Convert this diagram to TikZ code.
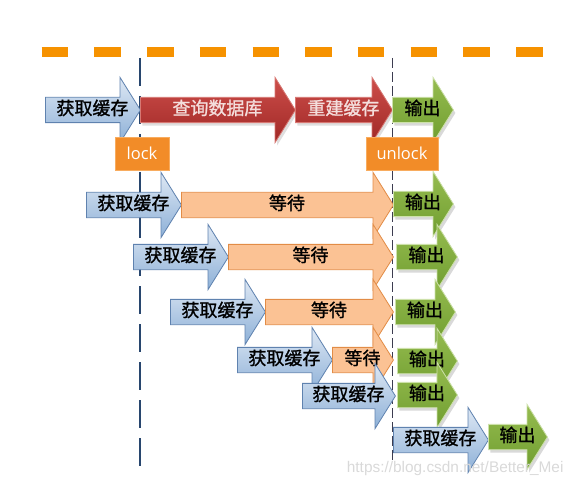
\documentclass[tikz,border=0pt]{standalone}
\usepackage{fontspec}
\setmainfont{Open Sans}
\newfontfamily\cjk[FakeBold=1.2]{Noto Sans CJK SC}
\newfontfamily\wmfont{Liberation Sans}
\usetikzlibrary{shapes.arrows,shadows}
\definecolor{dashorange}{RGB}{246,146,0}
\definecolor{timeline}{RGB}{40,70,110}
\definecolor{unlockline}{RGB}{60,60,80}
\definecolor{gettop}{RGB}{222,232,244}
\definecolor{getbottom}{RGB}{141,176,215}
\definecolor{getedge}{RGB}{95,130,175}
\definecolor{dbtop}{RGB}{205,78,74}
\definecolor{dbbottom}{RGB}{160,40,38}
\definecolor{dbedge}{RGB}{215,120,115}
\definecolor{dbtext}{RGB}{244,222,220}
\definecolor{waitfill}{RGB}{251,194,148}
\definecolor{waitedge}{RGB}{226,140,70}
\definecolor{outtop}{RGB}{150,188,80}
\definecolor{outbottom}{RGB}{112,158,48}
\definecolor{outedge}{RGB}{205,225,170}
\definecolor{lockfill}{RGB}{242,140,40}
\definecolor{lockedge}{RGB}{248,172,95}
\tikzset{
  textshift/.style={execute at begin node={\hspace*{#1}}, execute at end node={\hspace*{-#1}}},
  blockarrow/.style={single arrow, anchor=tail, single arrow head extend=20pt,
    single arrow tip angle=116, inner xsep=1pt, inner ysep=4.5pt,
    text height=12.5pt, text depth=3pt, line width=0.8pt, textshift=3.5pt,
    font=\cjk\fontsize{18}{18}\selectfont},
  getbox/.style={blockarrow, draw=getedge, top color=gettop, bottom color=getbottom, text=black},
  dbbox/.style={blockarrow, draw=dbedge, top color=dbtop, bottom color=dbbottom, text=dbtext,
    drop shadow={opacity=0.25, shadow xshift=2pt, shadow yshift=-3pt}},
  waitbox/.style={blockarrow, draw=waitedge, fill=waitfill, text=black},
  outbox/.style={blockarrow, draw=outedge, top color=outtop, bottom color=outbottom, text=black,
    drop shadow={opacity=0.3, shadow xshift=2pt, shadow yshift=-3pt}},
  lockbox/.style={rectangle, draw=lockedge, fill=lockfill, text=white, minimum height=33pt,
    font=\fontsize{16.5}{16.5}\selectfont},
}
\begin{document}
\begin{tikzpicture}[x=1pt,y=-1pt]
\useasboundingbox (0,0) rectangle (578,489);
\draw [dashorange, line width=10pt, dash pattern=on 26.5pt off 26.2pt] (41.7,52) -- (543,52);
\draw [timeline, line width=2pt, dash pattern=on 28pt off 10pt] (140,58) -- (140,470);
\draw [unlockline, line width=1pt, dash pattern=on 10pt off 4pt] (392,58) -- (392,463);
\node [getbox, minimum height=95pt] (get1) at (45,110) {获取缓存};
\node [dbbox, minimum height=155pt] (query) at (140,110) {查询数据库};
\node [dbbox, minimum height=97pt] (rebuild) at (295,110) {重建缓存};
\node [outbox, minimum height=61pt] (out1) at (392,110) {输出};
\node [getbox, minimum height=95pt] (get2) at (86,205) {获取缓存};
\node [waitbox, minimum height=212pt] (wait2) at (181,205) {等待};
\node [outbox, minimum height=60pt] (out2) at (393,204) {输出};
\node [getbox, minimum height=95pt] (get3) at (133,257) {获取缓存};
\node [waitbox, minimum height=165pt] (wait3) at (228,257) {等待};
\node [outbox, minimum height=61pt] (out3) at (396,257) {输出};
\node [getbox, minimum height=95pt] (get4) at (170,312) {获取缓存};
\node [waitbox, minimum height=128pt] (wait4) at (265,312) {等待};
\node [outbox, minimum height=60pt] (out4) at (395,312) {输出};
\node [getbox, minimum height=95pt] (get5) at (237,360) {获取缓存};
\node [waitbox, minimum height=61pt, textshift=0pt] (wait5) at (332,360) {等待};
\node [outbox, minimum height=60pt] (out5) at (397,361) {输出};
\node [getbox, minimum height=93pt] (get6) at (302,396) {获取缓存};
\node [outbox, minimum height=60pt] (out6) at (397,395) {输出};
\node [getbox, minimum height=95pt] (get7) at (393,440) {获取缓存};
\node [outbox, minimum height=59pt] (out7) at (488,437) {输出};
\node [lockbox, minimum width=54pt] (lock) at (142,153.5) {lock};
\node [lockbox, minimum width=72pt] (unlock) at (402,153.5) {unlock};
\node [anchor=east, text=gray!30, font=\wmfont\fontsize{15.4}{15.4}\selectfont] (mark) at (567,469) {https://blog.csdn.net/Better\_Mei};
\end{tikzpicture}
\end{document}
